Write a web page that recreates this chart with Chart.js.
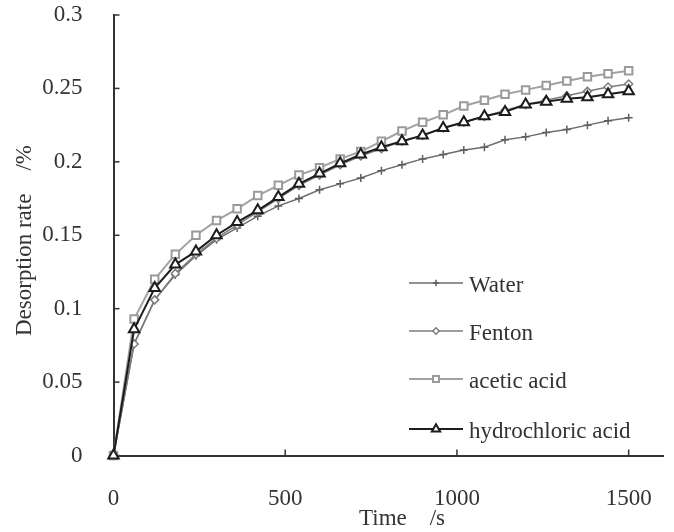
<!DOCTYPE html>
<html lang="en">
<head>
    <meta charset="UTF-8">
    <title>Desorption rate</title>
    <script src="https://cdn.jsdelivr.net/npm/chart.js"></script>
    <style>
        html, body { margin: 0; padding: 0; background: #fff; }
        #wrap { width: 674px; height: 532px; }
    </style>
</head>
<body>
    <div id="wrap">
        <canvas id="desorptionChart" width="674" height="532"></canvas>
    </div>
    <script>
        // time points (s)
        var timeSec = [0, 60, 120, 180, 240, 300, 360, 420, 480, 540, 600, 660, 720,
                       780, 840, 900, 960, 1020, 1080, 1140, 1200, 1260, 1320, 1380, 1440, 1500];

        // desorption rate (%)
        var water = [0, 0.076, 0.106, 0.123, 0.136, 0.147, 0.155, 0.163, 0.170, 0.175, 0.181, 0.185, 0.189,
                     0.194, 0.198, 0.202, 0.205, 0.208, 0.210, 0.215, 0.217, 0.220, 0.222, 0.225, 0.228, 0.230];
        var fenton = [0, 0.076, 0.106, 0.124, 0.137, 0.148, 0.157, 0.166, 0.175, 0.184, 0.191, 0.198, 0.204,
                      0.209, 0.214, 0.218, 0.223, 0.227, 0.231, 0.235, 0.239, 0.242, 0.245, 0.248, 0.251, 0.253];
        var aceticAcid = [0, 0.093, 0.120, 0.137, 0.150, 0.160, 0.168, 0.177, 0.184, 0.191, 0.196, 0.202, 0.207,
                          0.214, 0.221, 0.227, 0.232, 0.238, 0.242, 0.246, 0.249, 0.252, 0.255, 0.258, 0.260, 0.262];
        var hydrochloricAcid = [0, 0.086, 0.114, 0.130, 0.139, 0.150, 0.159, 0.167, 0.176, 0.185, 0.192, 0.199, 0.205,
                                0.210, 0.214, 0.218, 0.223, 0.227, 0.231, 0.234, 0.239, 0.241, 0.243, 0.244, 0.246, 0.248];

        var seriesNames = ['Water', 'Fenton', 'acetic acid', 'hydrochloric acid'];
        var xTicks = [0, 500, 1000, 1500];
        var yTicks = [0, 0.05, 0.1, 0.15, 0.2, 0.25, 0.3];
        var yTickLabels = ['0', '0.05', '0.1', '0.15', '0.2', '0.25', '0.3'];
        var xTitle = 'Time    /s';
        var yTitle = 'Desorption rate    /%';

        var FONT = "'Liberation Serif', 'Times New Roman', serif";
        var TEXT = '#333333';

        function toPoints(values) {
            return values.map(function (v, i) {
                return { x: timeSec[i], y: v };
            });
        }

        // inward tick marks, drawn under the lines
        var innerTicks = {
            id: 'innerTicks',
            beforeDatasetsDraw: function (chart) {
                var ctx = chart.ctx;
                var xs = chart.scales.x, ys = chart.scales.y;
                var area = chart.chartArea;
                ctx.save();
                ctx.strokeStyle = '#333';
                ctx.lineWidth = 1.5;
                xTicks.forEach(function (v) {
                    var px = xs.getPixelForValue(v);
                    ctx.beginPath();
                    ctx.moveTo(px, area.bottom);
                    ctx.lineTo(px, area.bottom - 6);
                    ctx.stroke();
                });
                yTicks.forEach(function (v) {
                    var py = ys.getPixelForValue(v);
                    ctx.beginPath();
                    ctx.moveTo(area.left, py);
                    ctx.lineTo(area.left + 6, py);
                    ctx.stroke();
                });
                ctx.restore();
            }
        };

        // axis titles and the in-plot legend
        var extras = {
            id: 'extras',
            afterDraw: function (chart) {
                var ctx = chart.ctx;
                ctx.save();
                ctx.fillStyle = TEXT;
                ctx.font = '23px ' + FONT;
                ctx.textAlign = 'left';
                ctx.textBaseline = 'alphabetic';
                ctx.fillText(xTitle, 359, 525);

                ctx.translate(31, 336);
                ctx.rotate(-Math.PI / 2);
                ctx.fillText(yTitle, 0, 0);
                ctx.restore();

                var rows = [283, 331, 379, 429];
                chart.data.datasets.forEach(function (ds, i) {
                    var y = rows[i];
                    ctx.save();
                    ctx.strokeStyle = ds.borderColor;
                    ctx.lineWidth = ds.borderWidth;
                    ctx.beginPath();
                    ctx.moveTo(409, y);
                    ctx.lineTo(463, y);
                    ctx.stroke();
                    ctx.fillStyle = ds.pointBackgroundColor;
                    ctx.strokeStyle = ds.pointBorderColor;
                    ctx.lineWidth = ds.pointBorderWidth;
                    Chart.helpers.drawPoint(ctx, {
                        pointStyle: ds.pointStyle,
                        radius: ds.pointRadius * 0.8,
                        borderWidth: ds.pointBorderWidth,
                        rotation: 0
                    }, 436, y);
                    ctx.fillStyle = TEXT;
                    ctx.font = '23px ' + FONT;
                    ctx.textAlign = 'left';
                    ctx.textBaseline = 'middle';
                    ctx.fillText(ds.label, 469, y + 3);
                    ctx.restore();
                });
            }
        };

        var ctx = document.getElementById('desorptionChart').getContext('2d');
        var chart = new Chart(ctx, {
            type: 'line',
            data: {
                datasets: [
                    {
                        label: seriesNames[0],
                        data: toPoints(water),
                        borderColor: '#6e6e6e',
                        borderWidth: 1.5,
                        pointStyle: 'cross',
                        pointRadius: 4,
                        pointBorderWidth: 1.5,
                        pointBorderColor: '#5e5e5e',
                        pointBackgroundColor: '#ffffff',
                        order: 3
                    },
                    {
                        label: seriesNames[1],
                        data: toPoints(fenton),
                        borderColor: '#7c7c7c',
                        borderWidth: 1.5,
                        pointStyle: 'rectRot',
                        pointRadius: 4,
                        pointBorderWidth: 1.5,
                        pointBorderColor: '#7c7c7c',
                        pointBackgroundColor: '#ffffff',
                        order: 2
                    },
                    {
                        label: seriesNames[2],
                        data: toPoints(aceticAcid),
                        borderColor: '#a2a2a2',
                        borderWidth: 2,
                        pointStyle: 'rect',
                        pointRadius: 5.3,
                        pointBorderWidth: 2,
                        pointBorderColor: '#9a9a9a',
                        pointBackgroundColor: '#ffffff',
                        order: 1
                    },
                    {
                        label: seriesNames[3],
                        data: toPoints(hydrochloricAcid),
                        borderColor: '#1c1c1c',
                        borderWidth: 2,
                        pointStyle: 'triangle',
                        pointRadius: 6,
                        pointBorderWidth: 2,
                        pointBorderColor: '#1c1c1c',
                        pointBackgroundColor: '#ffffff',
                        order: 0
                    }
                ]
            },
            options: {
                responsive: false,
                animation: false,
                devicePixelRatio: 1,
                clip: false,
                layout: {
                    padding: { left: 0, top: 15, right: 11, bottom: 0 }
                },
                elements: {
                    line: { tension: 0 }
                },
                scales: {
                    x: {
                        type: 'linear',
                        min: 0,
                        max: 1600,
                        grid: { display: false },
                        border: { display: true, color: '#333', width: 2 },
                        afterBuildTicks: function (scale) {
                            scale.ticks = xTicks.map(function (v) { return { value: v }; });
                        },
                        afterFit: function (scale) {
                            scale.height = 76.5;
                            scale.paddingLeft = 0;
                            scale.paddingRight = 0;
                        },
                        ticks: {
                            padding: 22,
                            color: TEXT,
                            font: { family: FONT, size: 23 },
                            maxRotation: 0,
                            callback: function (v) { return String(v); }
                        }
                    },
                    y: {
                        type: 'linear',
                        min: 0,
                        max: 0.3,
                        grid: { display: false },
                        border: { display: true, color: '#333', width: 2 },
                        afterBuildTicks: function (scale) {
                            scale.ticks = yTicks.map(function (v) { return { value: v }; });
                        },
                        afterFit: function (scale) {
                            scale.width = 113.5;
                            scale.paddingTop = 0;
                            scale.paddingBottom = 0;
                        },
                        ticks: {
                            padding: 23,
                            color: TEXT,
                            font: { family: FONT, size: 23 },
                            callback: function (v) {
                                var i = yTicks.findIndex(function (t) { return Math.abs(t - v) < 1e-9; });
                                return i >= 0 ? yTickLabels[i] : '';
                            }
                        }
                    }
                },
                plugins: {
                    legend: { display: false },
                    tooltip: { enabled: false }
                }
            },
            plugins: [innerTicks, extras]
        });
    </script>
</body>
</html>
